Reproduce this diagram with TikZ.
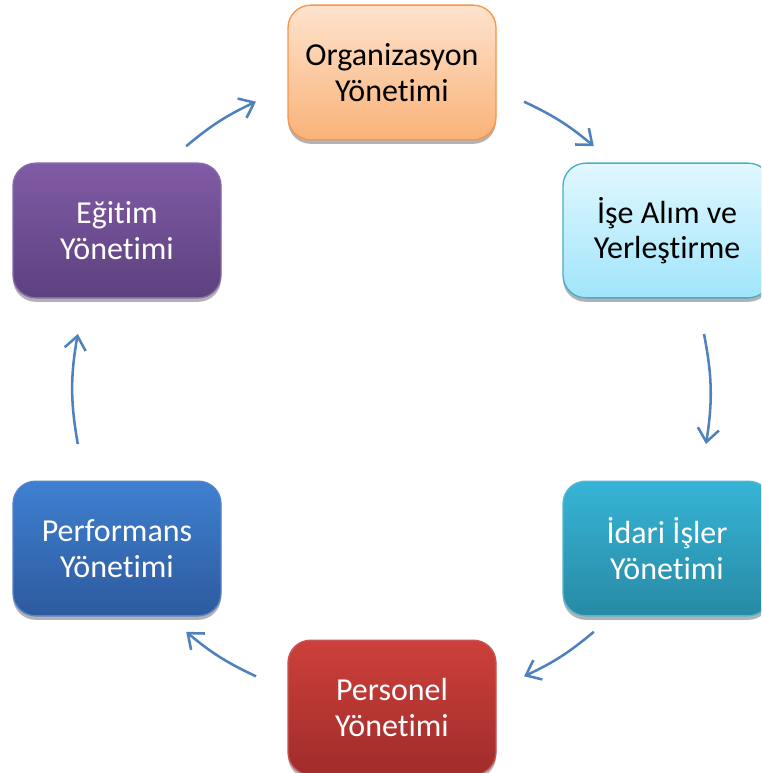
\documentclass[tikz,border=0pt]{standalone}
\usepackage{fontspec}
\setmainfont{Carlito}[Ligatures={NoCommon,NoRequired,NoContextual}]
\usetikzlibrary{arrows.meta,shadows}
\newcommand{\nolig}{\kern0pt }
\definecolor{arrowblue}{HTML}{4F81BD}
\definecolor{orgD}{HTML}{F79646}\definecolor{orgT}{RGB}{253,227,205}\definecolor{orgB}{RGB}{250,178,120}
\definecolor{iseD}{RGB}{75,172,198}\definecolor{iseT}{RGB}{225,248,254}\definecolor{iseB}{RGB}{160,229,251}
\definecolor{idaD}{RGB}{85,182,210}\definecolor{idaT}{RGB}{54,180,214}\definecolor{idaB}{RGB}{40,138,164}
\definecolor{perD}{RGB}{200,85,82}\definecolor{perT}{RGB}{205,64,59}\definecolor{perB}{RGB}{160,44,42}
\definecolor{prfD}{RGB}{85,130,200}\definecolor{prfT}{RGB}{63,128,208}\definecolor{prfB}{RGB}{45,90,158}
\definecolor{egtD}{RGB}{135,105,170}\definecolor{egtT}{RGB}{128,91,166}\definecolor{egtB}{RGB}{93,65,127}
\tikzset{
  box/.style={rounded corners=17pt, minimum width=156pt, minimum height=101pt,
    line width=1pt, align=center, inner sep=0pt,
    font=\fontsize{24}{26.5}\selectfont,
    drop shadow={shadow xshift=0pt, shadow yshift=-3pt, opacity=0.3, fill=black}},
  cyc/.style={draw=arrowblue, line width=1.9pt,
    -{Straight Barb[length=10pt, width=16pt, line width=1.9pt]}},
}
\begin{document}
\begin{tikzpicture}[x=0.75pt,y=-0.75pt]
\useasboundingbox (0,0) rectangle (761,773);
\clip (0,0) rectangle (761,773);
\node[box, draw=orgD, top color=orgT, bottom color=orgB, text=black]
  (org) at (392,72.5) {Organizasyon\\Yönet\nolig imi};
\node[box, draw=iseD, top color=iseT, bottom color=iseB, text=black]
  (ise) at (667,230.5) {İşe Alım ve\\Yerleşt\nolig irme};
\node[box, draw=idaD, top color=idaT, bottom color=idaB, text=white]
  (ida) at (667,548.5) {İdari İşler\\Yönet\nolig imi};
\node[box, draw=perD, top color=perT, bottom color=perB, text=white]
  (per) at (392,707.5) {Personel\\Yönet\nolig imi};
\node[box, draw=prfD, top color=prfT, bottom color=prfB, text=white]
  (prf) at (117,548.5) {Performans\\Yönet\nolig imi};
\node[box, draw=egtD, top color=egtT, bottom color=egtB, text=white]
  (egt) at (117,230.5) {Eğit\nolig im\\Yönet\nolig imi};
% arrow end points on a circle around the centre
\coordinate (a1s) at (524.0,101.7); \coordinate (a1e) at (593.8,146.2);
\coordinate (a2s) at (704.0,334.0); \coordinate (a2e) at (706.0,444.0);
\coordinate (a3s) at (593.8,631.8); \coordinate (a3e) at (524.0,676.3);
\coordinate (a4s) at (256.0,676.3); \coordinate (a4e) at (186.2,631.8);
\coordinate (a5s) at (77.8,444.0);  \coordinate (a5e) at (77.8,334.0);
\coordinate (a6s) at (186.2,146.2); \coordinate (a6e) at (256.0,101.7);
\draw[cyc] (a1s) to[bend left=7.5] (a1e);
\draw[cyc] (a2s) to[bend left=10] (a2e);
\draw[cyc] (a3s) to[bend left=7.5] (a3e);
\draw[cyc] (a4s) to[bend left=7.5] (a4e);
\draw[cyc] (a5s) to[bend left=10] (a5e);
\draw[cyc] (a6s) to[bend left=7.5] (a6e);
\end{tikzpicture}
\end{document}
